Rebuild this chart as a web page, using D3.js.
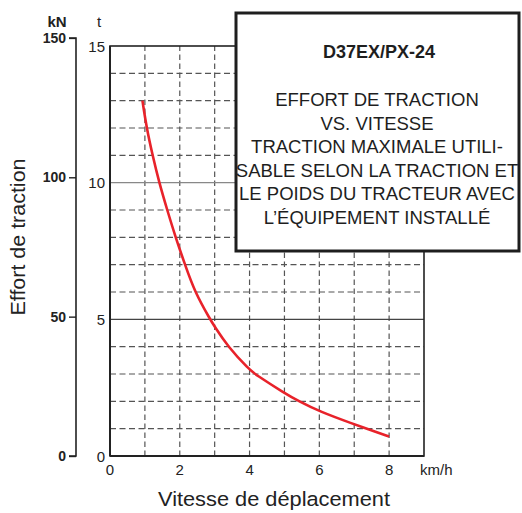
<!DOCTYPE html>
<html>
<head>
<meta charset="utf-8">
<script src="https://cdn.jsdelivr.net/npm/d3@7"></script>
<style>
  body { margin: 0; background: #fff; }
  svg { font-family: "Liberation Sans", Arial, Helvetica, sans-serif; }
</style>
</head>
<body>
<svg width="522" height="513"></svg>
<script>
// curve: speed (km/h) vs tractive effort (t)
const speed = [0.93, 1.05, 1.22, 1.41, 1.64, 1.88, 2.15, 2.43, 2.87, 3.0, 3.38, 4.0, 4.15, 5.0, 5.42, 6.0, 7.0, 7.36, 8.0];
const effort = [13.0, 12, 11, 10, 9, 8, 7, 6, 5, 4.73, 4, 3.15, 3.0, 2.3, 2.0, 1.63, 1.16, 1.0, 0.71];

const xTicks = [0, 2, 4, 6, 8];
const tTicks = [0, 5, 10, 15];
const kNTicks = [0, 50, 100, 150];
const titleLines = [
  'EFFORT DE TRACTION',
  'VS. VITESSE',
  'TRACTION MAXIMALE UTILI-',
  'SABLE SELON LA TRACTION ET',
  'LE POIDS DU TRACTEUR AVEC',
  'L\u2019ÉQUIPEMENT INSTALLÉ'
];

const svg = d3.select('svg');

const x = d3.scaleLinear().domain([0, 9]).range([110, 424]);
const y = d3.scaleLinear().domain([0, 15]).range([456, 46]);
const yKN = d3.scaleLinear().domain([0, 150]).range([456, 456 - 150 * (410 / 15) / 9.807]);

const grid = svg.append('g');

// dashed grid
grid.selectAll('.vgrid').data(d3.range(1, 9))
  .enter().append('line')
    .attr('x1', d => x(d)).attr('x2', d => x(d))
    .attr('y1', y(0)).attr('y2', y(15))
    .attr('stroke', '#555').attr('stroke-width', 1.2)
    .attr('stroke-dasharray', '5.5,3.5');

grid.selectAll('.hgrid').data(d3.range(1, 15).filter(d => d % 5 !== 0))
  .enter().append('line')
    .attr('x1', x(0)).attr('x2', x(9))
    .attr('y1', d => y(d)).attr('y2', d => y(d))
    .attr('stroke', '#555').attr('stroke-width', 1.2)
    .attr('stroke-dasharray', '6,3.5');

grid.selectAll('.hmajor').data([5, 10])
  .enter().append('line')
    .attr('x1', x(0)).attr('x2', x(9))
    .attr('y1', d => y(d)).attr('y2', d => y(d))
    .attr('stroke', d => d === 10 ? '#888' : '#444').attr('stroke-width', 1.4);

// frame
svg.append('rect')
  .attr('x', x(0)).attr('y', y(15))
  .attr('width', x(9) - x(0)).attr('height', y(0) - y(15))
  .attr('fill', 'none').attr('stroke', '#222').attr('stroke-width', 1.6);
svg.append('line')
  .attr('x1', x(0)).attr('x2', x(9)).attr('y1', y(0)).attr('y2', y(0))
  .attr('stroke', '#222').attr('stroke-width', 2);
svg.append('line')
  .attr('x1', x(0)).attr('x2', x(0)).attr('y1', y(0)).attr('y2', y(15))
  .attr('stroke', '#222').attr('stroke-width', 2);

// curve
const pts = speed.map((s, i) => [s, effort[i]]);
svg.append('path')
  .datum(pts)
  .attr('d', d3.line().x(d => x(d[0])).y(d => y(d[1])).curve(d3.curveBasis))
  .attr('fill', 'none').attr('stroke', '#e8222a').attr('stroke-width', 2.6);

// t axis labels
svg.append('g').selectAll('text').data(tTicks)
  .enter().append('text')
    .attr('x', 105).attr('y', d => y(d) + 5.5)
    .attr('text-anchor', 'end').attr('font-size', 15).attr('fill', '#222')
    .text(d => d);

svg.append('text').attr('x', 99).attr('y', 27).attr('text-anchor', 'middle')
  .attr('font-size', 15).attr('fill', '#222').text('t');

// x labels
svg.append('g').selectAll('text').data(xTicks)
  .enter().append('text')
    .attr('x', d => x(d)).attr('y', 475)
    .attr('text-anchor', 'middle').attr('font-size', 15).attr('fill', '#222')
    .text(d => d);
svg.append('text').attr('x', 420).attr('y', 475)
  .attr('font-size', 15).attr('fill', '#222').text('km/h');

// kN axis
const kNAxis = d3.axisLeft(yKN).tickValues(kNTicks).tickSize(7).tickPadding(3);
const kG = svg.append('g').attr('transform', 'translate(76,0)').call(kNAxis);
kG.select('.domain').attr('stroke', '#222').attr('stroke-width', 1.6)
  .attr('d', `M-7,${yKN(150)}H0V${yKN(0)}H-7`);
kG.selectAll('.tick line').attr('stroke', '#222').attr('stroke-width', 1.4);
kG.selectAll('.tick text')
  .attr('font-family', '"Liberation Sans", Arial, sans-serif')
  .attr('font-size', 14).attr('font-weight', 'bold').attr('fill', '#222');
svg.append('text').attr('x', 57).attr('y', 27).attr('text-anchor', 'middle')
  .attr('font-size', 15).attr('font-weight', 'bold').attr('fill', '#222').text('kN');

// axis titles
svg.append('text')
  .attr('transform', 'translate(25,237) rotate(-90)')
  .attr('text-anchor', 'middle').attr('font-size', 19.5).attr('fill', '#222')
  .attr('textLength', 157).attr('lengthAdjust', 'spacingAndGlyphs')
  .text('Effort de traction');
svg.append('text')
  .attr('x', 274).attr('y', 506)
  .attr('text-anchor', 'middle').attr('font-size', 20.5).attr('fill', '#222')
  .attr('textLength', 232).attr('lengthAdjust', 'spacingAndGlyphs')
  .text('Vitesse de déplacement');

// title box
svg.append('rect')
  .attr('x', 236).attr('y', 13).attr('width', 283).attr('height', 238)
  .attr('fill', '#fff').attr('stroke', '#1e1e1e').attr('stroke-width', 3);

svg.append('text')
  .attr('x', 379).attr('y', 58)
  .attr('text-anchor', 'middle')
  .attr('font-family', '"Liberation Sans Narrow", "Arial Narrow", "Liberation Sans", sans-serif')
  .attr('font-size', 18).attr('font-weight', 'bold').attr('fill', '#1e1e1e')
  .text('D37EX/PX-24');

svg.append('g').selectAll('text').data(titleLines)
  .enter().append('text')
    .attr('x', 377).attr('y', (d, i) => 106 + i * 23.5)
    .attr('text-anchor', 'middle').attr('font-size', 18.5).attr('fill', '#1e1e1e')
    .text(d => d);
</script>
</body>
</html>
